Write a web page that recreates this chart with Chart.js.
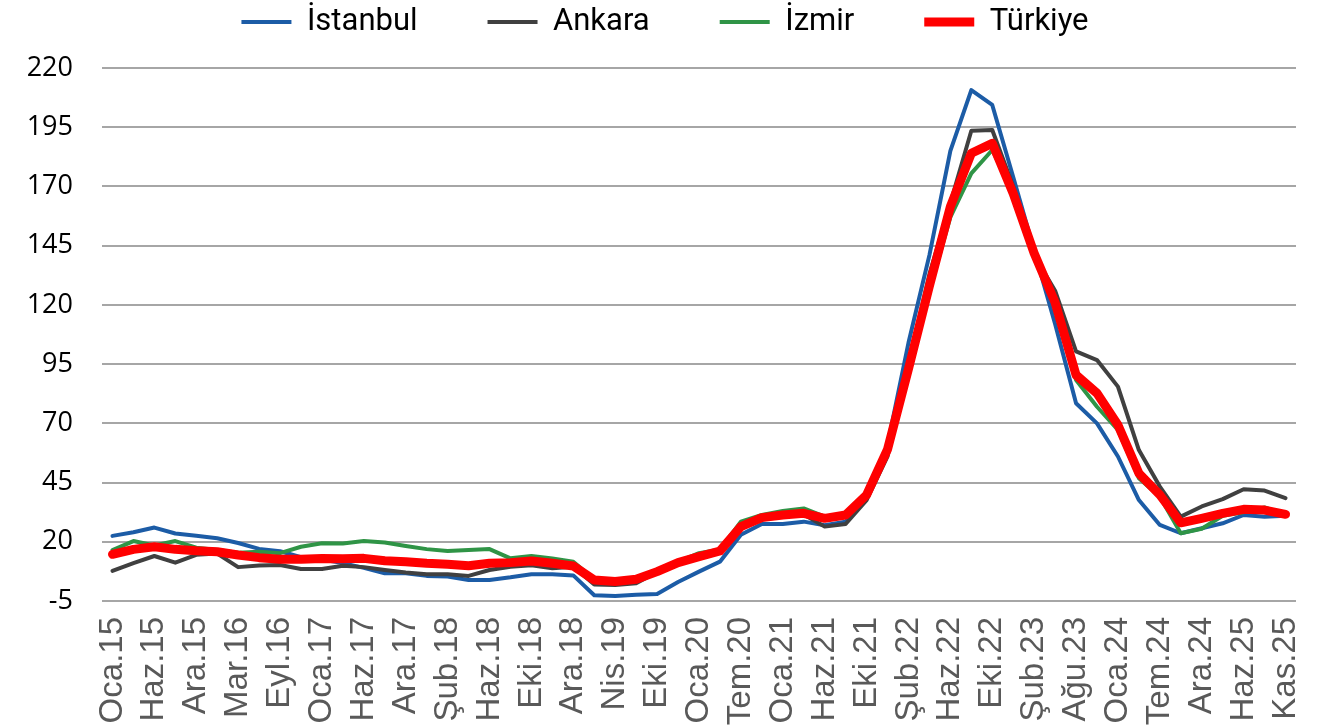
<!DOCTYPE html>
<html><head><meta charset="utf-8">
<script src="https://cdn.jsdelivr.net/npm/chart.js@4.4.0/dist/chart.umd.min.js"></script>
<style>html,body{margin:0;padding:0;background:#fff;overflow:hidden}</style>
</head><body>
<canvas id="c" width="1329" height="728"></canvas>
<script>
const tickLabels = ["Oca.15","Haz.15","Ara.15","Mar.16","Eyl.16","Oca.17","Haz.17","Ara.17","Şub.18","Haz.18","Eki.18","Ara.18","Nis.19","Eki.19","Oca.20","Tem.20","Oca.21","Haz.21","Eki.21","Şub.22","Haz.22","Eki.22","Şub.23","Ağu.23","Oca.24","Tem.24","Ara.24","Haz.25","Kas.25"];

const istanbul = [22.5,24,26,23.5,22.5,21.5,19.5,17,16,13.5,12.5,11,9,6.7,6.7,5.6,5.3,3.9,3.9,5,6.3,6.3,5.8,-2.6,-2.9,-2.4,-2,3,7.4,11.6,23,27.5,27.5,28.5,27,28.5,38,61,104,141,185,210.7,204.4,174,143,112,78.5,70,56,37.6,27.1,23.6,25.7,27.8,31.3,30.6,31];
const ankara = [7.7,11,14,11.2,14.5,15,9.3,10,10.2,8.5,8.5,9.9,9.3,8.1,7,6.3,6.3,5.6,8.1,9.5,10.1,8.8,9.5,2,1.8,2.5,7.2,11,13.5,16,26.5,30,30.8,31.5,26.4,27.5,37.6,56,95,133,163,193.5,193.8,170,141,126,100.4,96.7,85.5,58.7,43.3,30.6,34.9,38,42.2,41.6,38.4];
const izmir = [16.5,20.3,18.4,20.3,17.5,16.5,15.4,15.8,15.2,17.9,19.4,19.3,20.3,19.7,18.2,16.9,16.1,16.5,16.9,13,14,12.9,11.6,4.2,3.5,4.5,7.5,11.5,15.2,16.8,28.5,31.3,33,34.1,30.6,31.5,39.8,57,90,126,157,175.5,185.4,167,141,120,88.3,77,67.2,46.8,39,23.6,25.5,31,32.5,34.5,31.6];
const turkiye = [14.7,16.8,17.9,16.8,16.2,15.8,14.4,13.3,12.6,12.6,12.9,12.8,13,12,11.6,10.9,10.5,9.9,10.9,11.2,11.9,10.9,9.8,3.9,3.2,4.2,7.4,11.2,13.7,16.1,26.4,30.2,31.3,32,29.9,31.3,39.8,59,93,128,161.5,184,188.2,167,141.8,121,90.4,82.7,69.3,48.9,39.8,28,29.9,32,33.7,33.4,31.6];

// one category per data point; every second one carries a shown label
const categories = [];
tickLabels.forEach((t, i) => { categories.push(t); if (i < tickLabels.length - 1) categories.push(''); });

const LEGEND_FONT = 31, LEGEND_PAD = 70, LEGEND_H = 68;
const legendLayout = {
  id: 'legendLayout',
  beforeUpdate(chart) {
    const lg = chart.legend;
    if (lg && !lg.__patched) {
      const f = lg.fit;
      lg.fit = function () { f.call(this); this.height = LEGEND_H; };
      lg.__patched = true;
    }
  },
  afterLayout(chart) {
    const lg = chart.legend;
    const dy = 22 - (lg.top + LEGEND_PAD + LEGEND_FONT / 2);
    lg.top += dy;
    lg.left += 17; lg.right += 17;
  }
};

function ds(label, data, color, width, order) {
  return { label, data, borderColor: color, backgroundColor: color, borderWidth: width,
    pointRadius: 0, pointHoverRadius: 0, tension: 0, fill: false,
    borderJoinStyle: 'round', borderCapStyle: 'round', order };
}

new Chart(document.getElementById('c'), {
  type: 'line',
  data: {
    labels: categories,
    datasets: [
      ds('İstanbul', istanbul, '#1c5ca6', 4, 4),
      ds('Ankara', ankara, '#404040', 4, 3),
      ds('İzmir', izmir, '#2f9446', 4, 2),
      ds('Türkiye', turkiye, '#ff0000', 9, 1)
    ]
  },
  options: {
    responsive: false,
    animation: false,
    devicePixelRatio: 1,
    layout: { padding: { left: 0, right: 33, top: 0, bottom: 0 } },
    plugins: {
      tooltip: { enabled: false },
      legend: {
        position: 'top',
        align: 'center',
        labels: {
          usePointStyle: true,
          pointStyle: 'line',
          pointStyleWidth: 50,
          padding: LEGEND_PAD,
          color: '#000',
          font: { family: 'Roboto', size: LEGEND_FONT },
          sort: (a, b) => a.datasetIndex - b.datasetIndex
        }
      }
    },
    scales: {
      x: {
        offset: true,
        grid: { display: false, drawTicks: false },
        border: { display: false },
        ticks: {
          autoSkip: false, minRotation: 90, maxRotation: 90, padding: 16,
          color: '#595959', font: { family: 'Liberation Sans', size: 33 }
        },
        afterFit(s) { s.height = 127; s.paddingLeft = 0; s.paddingRight = 0; }
      },
      y: {
        min: -5, max: 220,
        grid: { color: '#a6a6a6', lineWidth: 2, drawTicks: false },
        border: { display: false },
        ticks: { stepSize: 25, padding: 29, color: '#000', font: { family: 'Open Sans', size: 27 } },
        afterFit(s) { s.width = 102; }
      }
    }
  },
  plugins: [legendLayout]
});
</script>
</body></html>
